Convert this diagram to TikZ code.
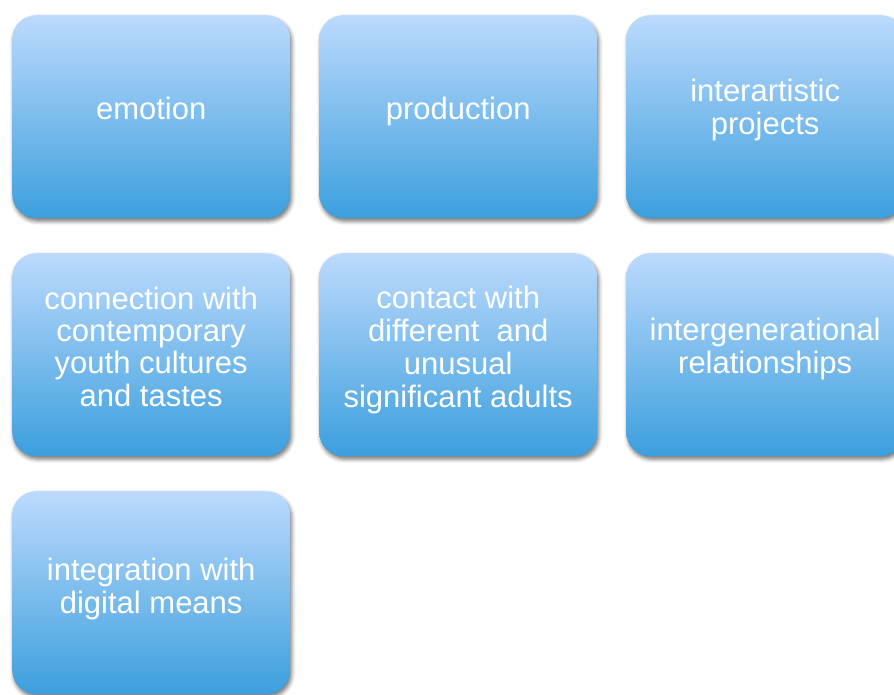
\documentclass[tikz,border=0pt]{standalone}
\usepackage{fontspec}
\setmainfont{Liberation Sans}
\usetikzlibrary{shadows.blur}
\definecolor{boxtop}{HTML}{BCDAFD}
\definecolor{boxbot}{HTML}{3C9FDD}
\tikzset{
  tile/.style={rectangle, rounded corners=24pt, anchor=north west,
    minimum width=278pt, minimum height=203pt, inner sep=0pt,
    top color=boxtop, bottom color=boxbot, draw=none,
    blur shadow={shadow xshift=1.5pt, shadow yshift=-3pt, shadow blur radius=4pt, shadow opacity=55}},
  tiletext/.style={text=white, font=\fontsize{31}{31.5}\selectfont, align=center,
    execute at begin node=\strut, inner sep=0pt}
}
\newcommand{\tbr}{\strut\\\strut}
\begin{document}
\begin{tikzpicture}[x=1pt,y=-1pt]
\useasboundingbox (0,0) rectangle (894,695);
\clip (0,0) rectangle (894,695);
\node[tile, label={[tiletext,yshift=4pt]center:emotion}] (a) at (12,15) {};
\node[tile, label={[tiletext,yshift=4pt]center:production}] (b) at (319,15) {};
\node[tile, label={[tiletext,yshift=5pt]center:interartistic\tbr projects}] (c) at (626,15) {};
\node[tile, label={[tiletext,yshift=3pt]center:connection with\tbr contemporary\tbr youth cultures\tbr and tastes}] (d) at (12,253) {};
\node[tile, label={[tiletext,yshift=3pt]center:contact with\tbr different~ and\tbr unusual\tbr significant adults}] (e) at (319,253) {};
\node[tile, label={[tiletext,yshift=4pt]center:intergenerational\tbr relationships}] (f) at (626,253) {};
\node[tile, label={[tiletext,yshift=2pt]center:integration with\tbr digital means}] (g) at (12,491) {};
\end{tikzpicture}
\end{document}
